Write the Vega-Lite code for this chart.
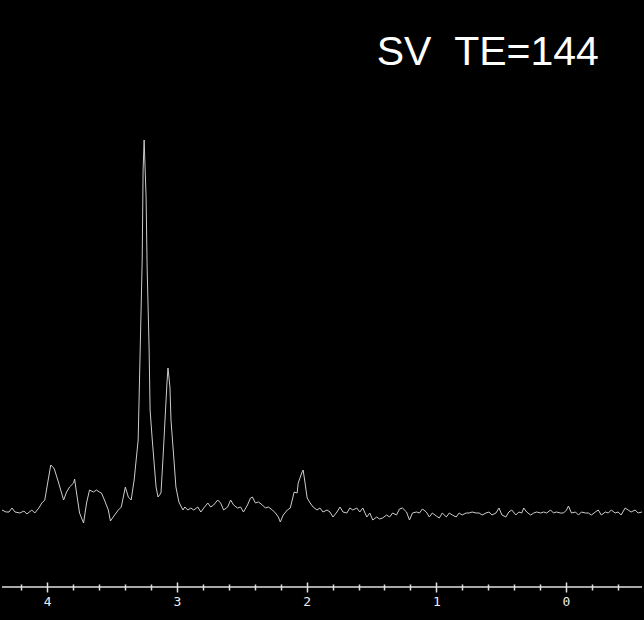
{
  "$schema": "https://vega.github.io/schema/vega-lite/v6.json",
  "width": 644,
  "height": 620,
  "autosize": {"type": "fit", "contains": "padding"},
  "padding": 0,
  "background": "#000000",
  "config": {"view": {"stroke": null}},
  "datasets": {
    "spectrum": [
      {"ppm":4.349,"v":77},{"ppm":4.318,"v":75},{"ppm":4.295,"v":75},{"ppm":4.272,"v":79},{"ppm":4.249,"v":75},
      {"ppm":4.211,"v":74},{"ppm":4.180,"v":76},{"ppm":4.157,"v":73},{"ppm":4.119,"v":77},{"ppm":4.096,"v":74},
      {"ppm":4.065,"v":79},{"ppm":4.042,"v":84},{"ppm":4.019,"v":87},{"ppm":3.989,"v":110},{"ppm":3.973,"v":122},
      {"ppm":3.950,"v":119},{"ppm":3.943,"v":117},{"ppm":3.912,"v":104},{"ppm":3.874,"v":87},{"ppm":3.851,"v":95},
      {"ppm":3.828,"v":100},{"ppm":3.797,"v":104},{"ppm":3.789,"v":108},{"ppm":3.774,"v":94},{"ppm":3.751,"v":74},
      {"ppm":3.720,"v":64},{"ppm":3.697,"v":84},{"ppm":3.674,"v":97},{"ppm":3.644,"v":95},{"ppm":3.621,"v":97},
      {"ppm":3.598,"v":95},{"ppm":3.582,"v":94},{"ppm":3.559,"v":87},{"ppm":3.529,"v":77},{"ppm":3.513,"v":66},
      {"ppm":3.475,"v":73},{"ppm":3.452,"v":77},{"ppm":3.429,"v":80},{"ppm":3.398,"v":100},{"ppm":3.375,"v":90},
      {"ppm":3.353,"v":87},{"ppm":3.330,"v":107},{"ppm":3.299,"v":147},{"ppm":3.284,"v":234},{"ppm":3.268,"v":327},
      {"ppm":3.261,"v":417},{"ppm":3.253,"v":447},{"ppm":3.238,"v":390},{"ppm":3.230,"v":320},{"ppm":3.215,"v":240},
      {"ppm":3.207,"v":177},{"ppm":3.192,"v":150},{"ppm":3.176,"v":124},{"ppm":3.161,"v":100},{"ppm":3.146,"v":90},
      {"ppm":3.123,"v":94},{"ppm":3.107,"v":130},{"ppm":3.092,"v":167},{"ppm":3.077,"v":204},{"ppm":3.069,"v":219},
      {"ppm":3.054,"v":200},{"ppm":3.046,"v":167},{"ppm":3.023,"v":127},{"ppm":3.008,"v":100},{"ppm":2.985,"v":85},
      {"ppm":2.954,"v":77},{"ppm":2.939,"v":80},{"ppm":2.916,"v":77},{"ppm":2.893,"v":79},{"ppm":2.870,"v":77},
      {"ppm":2.839,"v":80},{"ppm":2.816,"v":75},{"ppm":2.793,"v":79},{"ppm":2.762,"v":84},{"ppm":2.740,"v":80},
      {"ppm":2.717,"v":82},{"ppm":2.686,"v":87},{"ppm":2.663,"v":84},{"ppm":2.640,"v":77},{"ppm":2.609,"v":80},
      {"ppm":2.586,"v":87},{"ppm":2.563,"v":82},{"ppm":2.533,"v":79},{"ppm":2.510,"v":80},{"ppm":2.487,"v":75},
      {"ppm":2.456,"v":82},{"ppm":2.433,"v":89},{"ppm":2.418,"v":90},{"ppm":2.395,"v":84},{"ppm":2.372,"v":85},
      {"ppm":2.341,"v":82},{"ppm":2.318,"v":79},{"ppm":2.295,"v":80},{"ppm":2.264,"v":77},{"ppm":2.241,"v":74},
      {"ppm":2.218,"v":70},{"ppm":2.203,"v":65},{"ppm":2.180,"v":72},{"ppm":2.149,"v":77},{"ppm":2.126,"v":79},
      {"ppm":2.111,"v":87},{"ppm":2.096,"v":95},{"ppm":2.073,"v":94},{"ppm":2.065,"v":104},{"ppm":2.035,"v":115},
      {"ppm":2.027,"v":117},{"ppm":2.012,"v":104},{"ppm":1.996,"v":89},{"ppm":1.973,"v":84},{"ppm":1.950,"v":80},
      {"ppm":1.920,"v":77},{"ppm":1.897,"v":79},{"ppm":1.874,"v":75},{"ppm":1.843,"v":77},{"ppm":1.820,"v":75},
      {"ppm":1.797,"v":70},{"ppm":1.766,"v":75},{"ppm":1.743,"v":80},{"ppm":1.720,"v":75},{"ppm":1.690,"v":74},
      {"ppm":1.667,"v":79},{"ppm":1.644,"v":77},{"ppm":1.613,"v":79},{"ppm":1.590,"v":75},{"ppm":1.567,"v":79},
      {"ppm":1.536,"v":70},{"ppm":1.513,"v":74},{"ppm":1.490,"v":67},{"ppm":1.460,"v":70},{"ppm":1.437,"v":68},
      {"ppm":1.414,"v":69},{"ppm":1.383,"v":72},{"ppm":1.360,"v":70},{"ppm":1.337,"v":74},{"ppm":1.307,"v":72},
      {"ppm":1.284,"v":78},{"ppm":1.261,"v":79},{"ppm":1.230,"v":75},{"ppm":1.207,"v":67},{"ppm":1.184,"v":74},
      {"ppm":1.153,"v":75},{"ppm":1.130,"v":74},{"ppm":1.107,"v":78},{"ppm":1.077,"v":75},{"ppm":1.054,"v":70},
      {"ppm":1.031,"v":74},{"ppm":1.000,"v":71},{"ppm":0.977,"v":69},{"ppm":0.954,"v":74},{"ppm":0.923,"v":70},
      {"ppm":0.900,"v":74},{"ppm":0.877,"v":72},{"ppm":0.847,"v":70},{"ppm":0.824,"v":74},{"ppm":0.801,"v":72},
      {"ppm":0.770,"v":74},{"ppm":0.747,"v":74},{"ppm":0.724,"v":75},{"ppm":0.693,"v":74},{"ppm":0.670,"v":74},
      {"ppm":0.647,"v":72},{"ppm":0.617,"v":74},{"ppm":0.594,"v":75},{"ppm":0.571,"v":72},{"ppm":0.540,"v":74},
      {"ppm":0.517,"v":79},{"ppm":0.494,"v":72},{"ppm":0.464,"v":70},{"ppm":0.441,"v":75},{"ppm":0.418,"v":77},
      {"ppm":0.387,"v":72},{"ppm":0.364,"v":75},{"ppm":0.341,"v":74},{"ppm":0.326,"v":79},{"ppm":0.303,"v":75},
      {"ppm":0.272,"v":72},{"ppm":0.249,"v":74},{"ppm":0.226,"v":75},{"ppm":0.195,"v":74},{"ppm":0.172,"v":75},
      {"ppm":0.149,"v":74},{"ppm":0.119,"v":77},{"ppm":0.096,"v":74},{"ppm":0.073,"v":75},{"ppm":0.042,"v":74},
      {"ppm":0.019,"v":74},{"ppm":-0.004,"v":77},{"ppm":-0.019,"v":81},{"ppm":-0.042,"v":74},{"ppm":-0.073,"v":75},
      {"ppm":-0.096,"v":72},{"ppm":-0.119,"v":75},{"ppm":-0.150,"v":74},{"ppm":-0.173,"v":74},{"ppm":-0.196,"v":72},
      {"ppm":-0.226,"v":75},{"ppm":-0.249,"v":77},{"ppm":-0.272,"v":72},{"ppm":-0.303,"v":75},{"ppm":-0.326,"v":74},
      {"ppm":-0.349,"v":77},{"ppm":-0.379,"v":74},{"ppm":-0.402,"v":75},{"ppm":-0.425,"v":72},{"ppm":-0.456,"v":79},
      {"ppm":-0.479,"v":77},{"ppm":-0.502,"v":75},{"ppm":-0.533,"v":77},{"ppm":-0.556,"v":74},{"ppm":-0.586,"v":75}
    ],
    "label": [
      {"ppm": 1.460, "v": 522, "text": "SV\u00a0\u00a0TE=144"}
    ],
    "baseline": [
      {"v": 0}
    ]
  },
  "resolve": {"axis": {"x": "independent"}},
  "layer": [
    {
      "data": {"name": "spectrum"},
      "mark": {"type": "line", "color": "#cccccc", "strokeWidth": 1, "clip": false},
      "encoding": {
        "x": {
          "field": "ppm",
          "type": "quantitative",
          "scale": {"domain": [-0.586, 4.349], "reverse": true, "nice": false, "zero": false},
          "axis": {
            "orient": "bottom",
            "title": null,
            "grid": false,
            "domain": false,
            "offset": -5,
            "values": [0, 1, 2, 3, 4],
            "format": "d",
            "tickColor": "#e0e0e0",
            "tickWidth": 1.5,
            "tickSize": 10,
            "labelColor": "#eeeeee",
            "labelFont": "DejaVu Sans Mono",
            "labelFontSize": 13,
            "labelPadding": 3,
            "labelFlush": false,
            "labelOverlap": false,
            "minExtent": 38,
            "maxExtent": 38
          }
        },
        "y": {
          "field": "v",
          "type": "quantitative",
          "scale": {"domain": [0, 587], "nice": false, "zero": false},
          "axis": null
        }
      }
    },
    {
      "data": {"name": "label"},
      "mark": {"type": "text", "align": "left", "baseline": "alphabetic", "font": "Liberation Sans", "fontSize": 41, "color": "#ffffff"},
      "encoding": {
        "x": {
          "field": "ppm",
          "type": "quantitative",
          "axis": {
            "orient": "bottom",
            "title": null,
            "grid": false,
            "domain": false,
            "labels": false,
            "offset": -3,
            "values": [-0.4, -0.2, 0.2, 0.4, 0.6, 0.8, 1.2, 1.4, 1.6, 1.8, 2.2, 2.4, 2.6, 2.8, 3.2, 3.4, 3.6, 3.8, 4.2],
            "tickColor": "#e0e0e0",
            "tickWidth": 1.5,
            "tickSize": 6
          }
        },
        "y": {"field": "v", "type": "quantitative"},
        "text": {"field": "text"}
      }
    },
    {
      "data": {"name": "baseline"},
      "mark": {"type": "rule", "color": "#e0e0e0", "strokeWidth": 1.5},
      "encoding": {"y": {"field": "v", "type": "quantitative"}}
    }
  ]
}
